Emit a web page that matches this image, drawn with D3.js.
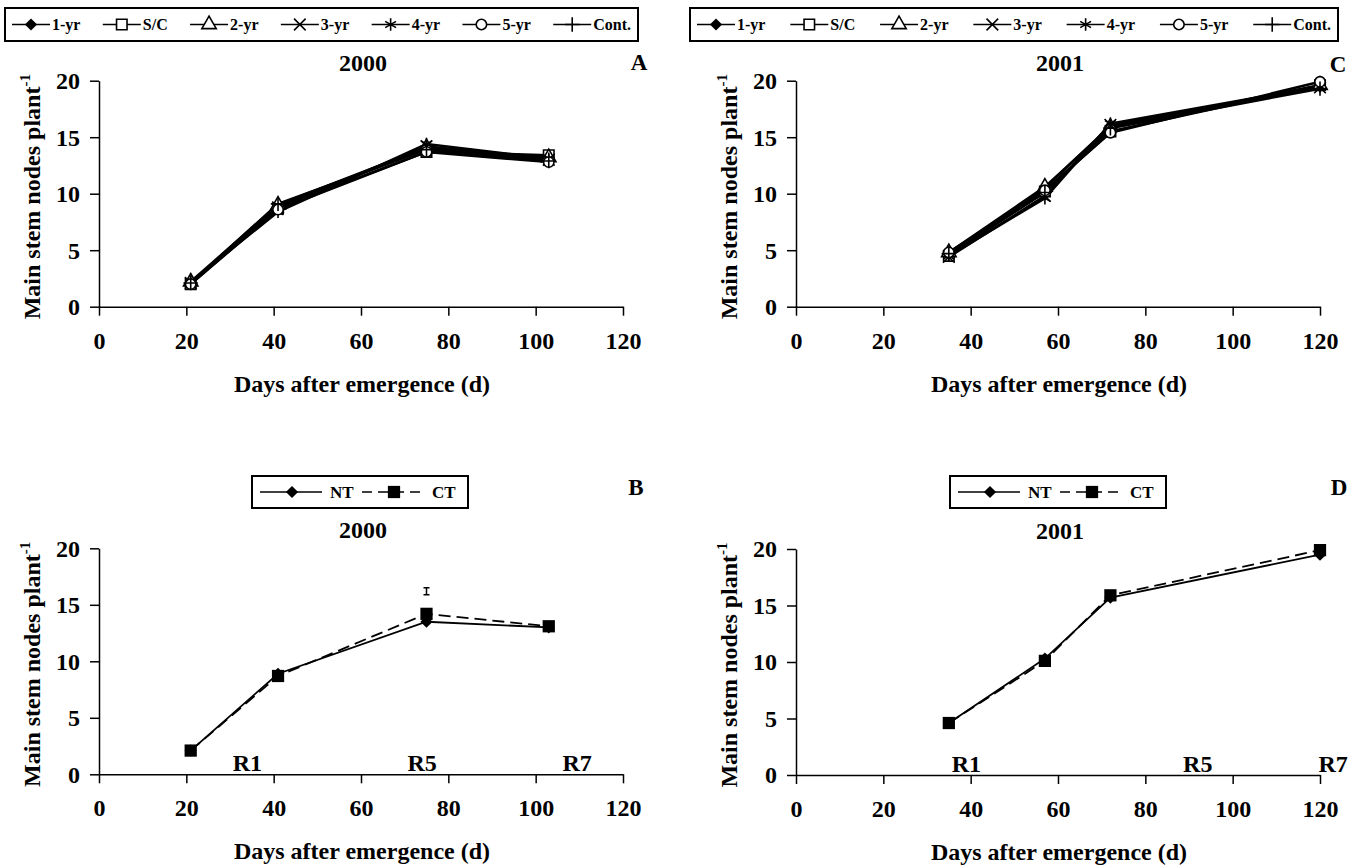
<!DOCTYPE html>
<html>
<head>
<meta charset="utf-8">
<script src="https://cdn.jsdelivr.net/npm/d3@7"></script>
<style>
  body { margin: 0; background: #fff; }
  svg { display: block; font-family: "Liberation Serif", "Times New Roman", serif; font-weight: bold; }
</style>
</head>
<body>
<svg id="chart" width="1357" height="868"></svg>
<script>
// axis ticks
var xTicks = [0, 20, 40, 60, 80, 100, 120];
var yTicks = [0, 5, 10, 15, 20];

// sampling days
var days2000 = [21, 41, 75, 103];
var days2001 = [35, 57, 72, 120];

// rotation treatments (panels A and C)
var rotations = ["1-yr", "S/C", "2-yr", "3-yr", "4-yr", "5-yr", "Cont."];
var rotNodes2000 = [
  [2.1, 8.9, 14.0, 13.1],
  [2.0, 8.7, 13.7, 13.4],
  [2.2, 9.0, 14.1, 13.2],
  [2.1, 8.8, 14.2, 13.0],
  [2.2, 8.4, 14.4, 13.1],
  [2.0, 8.6, 13.7, 12.8],
  [2.1, 9.1, 13.9, 12.9]
];
var rotNodes2001 = [
  [4.6, 10.5, 16.0, 19.5],
  [4.5, 10.2, 15.5, 19.6],
  [4.8, 10.6, 15.9, 19.6],
  [4.4, 9.8, 16.1, 19.4],
  [4.5, 9.6, 16.2, 19.5],
  [4.8, 10.3, 15.4, 19.9],
  [4.7, 10.1, 15.8, 19.3]
];

// tillage treatments (panels B and D)
var tillage = ["NT", "CT"];
var ntNodes2000 = [2.1, 8.9, 13.5, 13.0];
var ctNodes2000 = [2.1, 8.7, 14.2, 13.1];
var ntNodes2001 = [4.6, 10.3, 15.7, 19.5];
var ctNodes2001 = [4.6, 10.1, 15.9, 19.9];

// LSD bar in 2000 panel: day, centre, half length
var lsd2000 = [75, 16.2, 0.3];

// growth stage labels
var stages = ["R1", "R5", "R7"];
var stageDays2000 = [34, 74, 109.5];
var stageDays2001 = [39, 92, 123];

var svg = d3.select("#chart");
var FONT = "'Liberation Serif', 'Times New Roman', serif";

function sym(type, size) {
  return d3.symbol().type(type).size(size)();
}

// marker look for every treatment
var markers = {
  "1-yr":  { type: d3.symbolDiamond2 || d3.symbolDiamond, size: 95, fill: "#000", stroke: "none" },
  "S/C":   { type: d3.symbolSquare, size: 110, fill: "#fff", stroke: "#000" },
  "2-yr":  { type: d3.symbolTriangle, size: 90, fill: "#fff", stroke: "#000" },
  "3-yr":  { type: d3.symbolX || d3.symbolCross, size: 90, fill: "none", stroke: "#000" },
  "4-yr":  { type: d3.symbolAsterisk || d3.symbolCross, size: 110, fill: "none", stroke: "#000" },
  "5-yr":  { type: d3.symbolCircle, size: 85, fill: "#fff", stroke: "#000" },
  "Cont.": { type: d3.symbolPlus || d3.symbolCross, size: 70, fill: "none", stroke: "#000" },
  "NT":    { type: d3.symbolDiamond2 || d3.symbolDiamond, size: 95, fill: "#000", stroke: "none" },
  "CT":    { type: d3.symbolSquare, size: 150, fill: "#000", stroke: "none" }
};

function drawMarker(g, name, cx, cy) {
  var m = markers[name];
  g.append("path")
    .attr("d", sym(m.type, m.size))
    .attr("transform", "translate(" + cx + "," + cy + ")")
    .attr("fill", m.fill)
    .attr("stroke", m.stroke)
    .attr("stroke-width", 1.6);
}

function panel(box) {
  var x = d3.scaleLinear().domain([0, 120]).range([box.l, box.r]);
  var y = d3.scaleLinear().domain([0, 20]).range([box.b, box.t]);
  var g = svg.append("g");

  var gx = g.append("g")
    .attr("transform", "translate(0," + box.b + ")")
    .call(d3.axisBottom(x).tickValues(xTicks).tickSize(9).tickSizeOuter(0));
  var gy = g.append("g")
    .attr("transform", "translate(" + box.l + ",0)")
    .call(d3.axisLeft(y).tickValues(yTicks).tickSize(9).tickSizeOuter(0));

  [gx, gy].forEach(function(a) {
    a.attr("font-family", FONT).attr("font-size", 24).attr("font-weight", "bold");
    a.selectAll("path, line").attr("stroke", "#000").attr("stroke-width", 1.5);
    a.selectAll("text").attr("fill", "#000");
  });
  gx.selectAll("text").attr("y", 42).attr("dy", 0);
  gy.selectAll("text").attr("x", -19).attr("dy", "0.33em");

  // axis titles
  g.append("text")
    .attr("x", (box.l + box.r) / 2 + 1)
    .attr("y", box.b + 85)
    .attr("text-anchor", "middle")
    .attr("font-size", 24)
    .text("Days after emergence (d)");

  var yt = g.append("text")
    .attr("transform", "translate(" + (box.l - 59) + "," + ((box.t + box.b) / 2 + 3) + ") rotate(-90)")
    .attr("text-anchor", "middle")
    .attr("font-size", 24);
  yt.append("tspan").text("Main stem nodes plant");
  yt.append("tspan").attr("dy", -10).attr("font-size", 15).text("-1");

  // year title and panel letter
  g.append("text")
    .attr("x", (box.l + box.r) / 2 + 2)
    .attr("y", box.t - 10)
    .attr("text-anchor", "middle")
    .attr("font-size", 24)
    .text(box.year);
  g.append("text")
    .attr("x", box.letterX)
    .attr("y", box.letterY)
    .attr("text-anchor", "middle")
    .attr("font-size", 23)
    .text(box.letter);

  return { g: g, x: x, y: y };
}

function legendBox(x0, y0, x1, y1) {
  svg.append("rect")
    .attr("x", x0).attr("y", y0)
    .attr("width", x1 - x0).attr("height", y1 - y0)
    .attr("fill", "#fff").attr("stroke", "#000").attr("stroke-width", 2);
}

// legend with the seven rotations, spread over the box
function rotationLegend(x0, y0, x1, y1) {
  legendBox(x0, y0, x1, y1);
  var cy = (y0 + y1) / 2;
  var L = 38, pad = 7, gapText = 2;
  var lg = svg.append("g").attr("font-size", 16);
  var widths = rotations.map(function(r) {
    var t = lg.append("text").text(r);
    var w = t.node().getComputedTextLength();
    t.remove();
    return w;
  });
  var used = d3.sum(widths) + rotations.length * (L + gapText);
  var gap = (x1 - x0 - 2 * pad - used) / (rotations.length - 1);
  var cx = x0 + pad;
  rotations.forEach(function(r, i) {
    lg.append("line")
      .attr("x1", cx).attr("x2", cx + L)
      .attr("y1", cy).attr("y2", cy)
      .attr("stroke", "#000").attr("stroke-width", 1.6);
    drawMarker(lg, r, cx + L / 2, cy);
    lg.append("text")
      .attr("x", cx + L + gapText)
      .attr("y", cy + 5.5)
      .text(r);
    cx += L + gapText + widths[i] + gap;
  });
}

function tillageLegend(x0, y0) {
  legendBox(x0, y0, x0 + 216, y0 + 32);
  var cy = y0 + 16;
  var lg = svg.append("g").attr("font-size", 17);
  var starts = [8, 110];
  tillage.forEach(function(t, i) {
    var sx = x0 + starts[i];
    lg.append("line")
      .attr("x1", sx).attr("x2", sx + 62)
      .attr("y1", cy).attr("y2", cy)
      .attr("stroke", "#000").attr("stroke-width", 1.6)
      .attr("stroke-dasharray", t === "CT" ? "10,6" : null);
    drawMarker(lg, t, sx + 32, cy);
    lg.append("text")
      .attr("x", sx + 70)
      .attr("y", cy + 6)
      .text(t);
  });
}

function rotationSeries(p, days, values) {
  var line = d3.line().x(function(d) { return p.x(d[0]); }).y(function(d) { return p.y(d[1]); });
  values.forEach(function(vals) {
    p.g.append("path")
      .datum(d3.zip(days, vals))
      .attr("d", line)
      .attr("fill", "none")
      .attr("stroke", "#000")
      .attr("stroke-width", 2.6);
  });
  values.forEach(function(vals, i) {
    d3.zip(days, vals).forEach(function(d) {
      drawMarker(p.g, rotations[i], p.x(d[0]), p.y(d[1]));
    });
  });
}

function tillageSeries(p, days, nt, ct) {
  var line = d3.line().x(function(d) { return p.x(d[0]); }).y(function(d) { return p.y(d[1]); });
  p.g.append("path").datum(d3.zip(days, ct)).attr("d", line)
    .attr("fill", "none").attr("stroke", "#000").attr("stroke-width", 1.8)
    .attr("stroke-dasharray", "12,6");
  p.g.append("path").datum(d3.zip(days, nt)).attr("d", line)
    .attr("fill", "none").attr("stroke", "#000").attr("stroke-width", 1.8);
  d3.zip(days, nt).forEach(function(d) { drawMarker(p.g, "NT", p.x(d[0]), p.y(d[1])); });
  d3.zip(days, ct).forEach(function(d) { drawMarker(p.g, "CT", p.x(d[0]), p.y(d[1])); });
}

function stageLabels(p, pos) {
  stages.forEach(function(s, i) {
    p.g.append("text")
      .attr("x", p.x(pos[i]))
      .attr("y", p.y(0) - 3)
      .attr("text-anchor", "middle")
      .attr("font-size", 24)
      .text(s);
  });
}

// panel A
var pA = panel({ l: 99, r: 623, t: 80.7, b: 306.7, year: "2000", letter: "A", letterX: 639, letterY: 70 });
rotationSeries(pA, days2000, rotNodes2000);
rotationLegend(5, 8, 638, 41);

// panel C
var pC = panel({ l: 796, r: 1320, t: 80.7, b: 306.7, year: "2001", letter: "C", letterX: 1338, letterY: 72 });
rotationSeries(pC, days2001, rotNodes2001);
rotationLegend(690, 8, 1338, 41);

// panel B
var pB = panel({ l: 99, r: 623, t: 548.3, b: 774.3, year: "2000", letter: "B", letterX: 636, letterY: 495 });
tillageSeries(pB, days2000, ntNodes2000, ctNodes2000);
stageLabels(pB, stageDays2000);
tillageLegend(252, 476);
var lx = pB.x(lsd2000[0]);
pB.g.append("path")
  .attr("d", "M" + (lx - 3) + "," + pB.y(lsd2000[1] + lsd2000[2]) + "H" + (lx + 3) +
             "M" + lx + "," + pB.y(lsd2000[1] + lsd2000[2]) + "V" + pB.y(lsd2000[1] - lsd2000[2]) +
             "M" + (lx - 3) + "," + pB.y(lsd2000[1] - lsd2000[2]) + "H" + (lx + 3))
  .attr("stroke", "#000").attr("stroke-width", 1.5).attr("fill", "none");

// panel D
var pD = panel({ l: 796, r: 1320, t: 549, b: 775, year: "2001", letter: "D", letterX: 1339, letterY: 495 });
tillageSeries(pD, days2001, ntNodes2001, ctNodes2001);
stageLabels(pD, stageDays2001);
tillageLegend(950, 476);
</script>
</body>
</html>
